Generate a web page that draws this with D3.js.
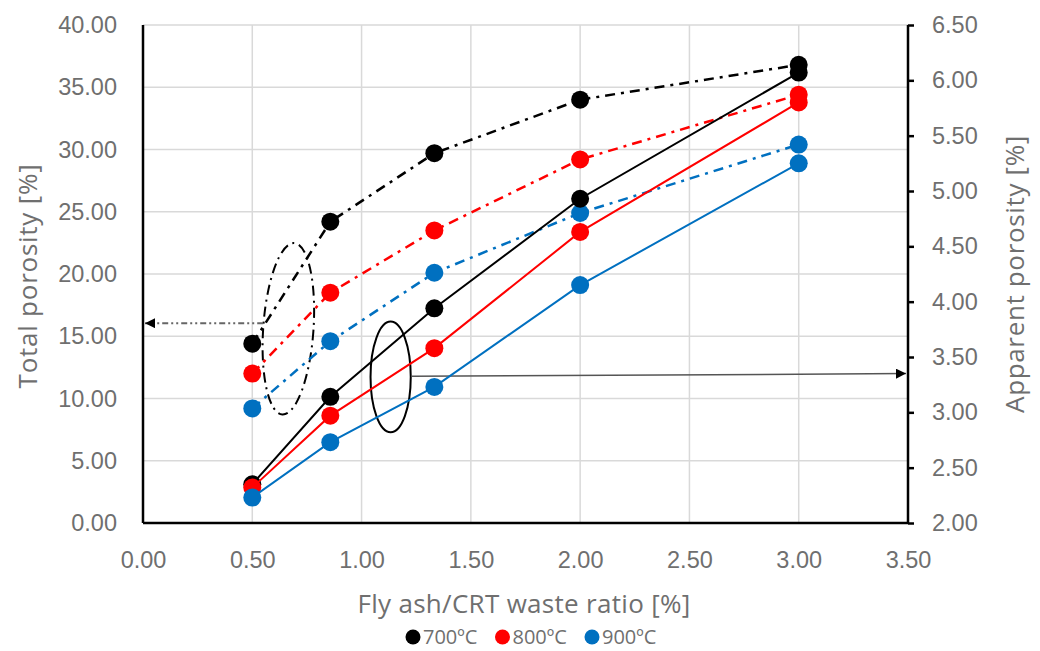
<!DOCTYPE html>
<html>
<head>
<meta charset="utf-8">
<script src="https://cdn.jsdelivr.net/npm/d3@7"></script>
<style>
  body { margin: 0; background: #fff; }
  svg { font-family: "Open Sans", sans-serif; }
</style>
</head>
<body>
<svg></svg>
<script>
// fly ash / CRT waste ratio
var ratios = [0.5, 0.857, 1.333, 2.0, 3.0];
var temps = ["700ºC", "800ºC", "900ºC"];
var colors = ["#000000", "#ff0000", "#0070c0"];

// total porosity [%] (left axis, dash-dot)
var total700 = [14.4, 24.2, 29.7, 34.0, 36.8];
var total800 = [12.0, 18.5, 23.5, 29.2, 34.4];
var total900 = [9.2, 14.6, 20.1, 24.9, 30.4];

// apparent porosity [%] (right axis, solid)
var app700 = [2.35, 3.14, 3.94, 4.93, 6.07];
var app800 = [2.32, 2.97, 3.58, 4.63, 5.80];
var app900 = [2.23, 2.73, 3.23, 4.15, 5.25];

var xTicks = [0, 0.5, 1, 1.5, 2, 2.5, 3, 3.5];
var leftTicks = [0, 5, 10, 15, 20, 25, 30, 35, 40];
var rightTicks = [2, 2.5, 3, 3.5, 4, 4.5, 5, 5.5, 6, 6.5];

var svgWidth = 1040, svgHeight = 651;
var margin = {left: 143, right: 132, top: 25, bottom: 128};
var w = svgWidth - margin.left - margin.right;
var h = svgHeight - margin.top - margin.bottom;

var svg = d3.select("svg")
    .attr("width", svgWidth)
    .attr("height", svgHeight);

var defs = svg.append("defs");
defs.append("marker")
    .attr("id", "arrow")
    .attr("viewBox", "0 0 10 10")
    .attr("refX", 10).attr("refY", 5)
    .attr("markerWidth", 10).attr("markerHeight", 10)
    .attr("markerUnits", "userSpaceOnUse")
    .attr("orient", "auto")
    .append("path")
    .attr("d", "M0,0L10,5L0,10Z")
    .attr("fill", "#000");

var g = svg.append("g")
    .attr("transform", "translate(" + margin.left + "," + margin.top + ")");

var x = d3.scaleLinear().domain([0, 3.5]).range([0, w]);
var yL = d3.scaleLinear().domain([0, 40]).range([h, 0]);
var yR = d3.scaleLinear().domain([2, 6.5]).range([h, 0]);

// grid
g.append("g").selectAll("line")
    .data(xTicks.slice(1))
    .enter().append("line")
    .attr("x1", function(d) { return x(d); })
    .attr("x2", function(d) { return x(d); })
    .attr("y1", 0).attr("y2", h)
    .attr("stroke", "#d9d9d9").attr("stroke-width", 1.5);
g.append("g").selectAll("line")
    .data(leftTicks.slice(1))
    .enter().append("line")
    .attr("x1", 0).attr("x2", w)
    .attr("y1", function(d) { return yL(d); })
    .attr("y2", function(d) { return yL(d); })
    .attr("stroke", "#d9d9d9").attr("stroke-width", 1.5);

// axes
var fmt = d3.format(".2f");
var xAxis = g.append("g")
    .attr("transform", "translate(0," + h + ")")
    .call(d3.axisBottom(x).tickValues(xTicks).tickFormat(fmt).tickSize(0).tickPadding(28));
var leftAxis = g.append("g")
    .call(d3.axisLeft(yL).tickValues(leftTicks).tickFormat(fmt).tickSize(0).tickPadding(26));
var rightAxis = g.append("g")
    .attr("transform", "translate(" + w + ",0)")
    .call(d3.axisRight(yR).tickValues(rightTicks).tickFormat(fmt).tickSize(6).tickPadding(18));

[xAxis, leftAxis, rightAxis].forEach(function(a) {
    a.select(".domain").attr("stroke", "#000").attr("stroke-width", 2.5);
    a.selectAll(".tick line").attr("stroke", "#000").attr("stroke-width", 2.5);
    a.selectAll("text").attr("fill", "#6f6f6f").attr("font-size", 23.5);
});
xAxis.select(".domain").attr("d", "M0,0H" + w);
leftAxis.select(".domain").attr("d", "M0,0V" + h);
rightAxis.select(".domain").attr("d", "M0,0V" + h);

// axis titles
svg.append("text")
    .attr("x", 524).attr("y", 613)
    .attr("text-anchor", "middle")
    .attr("font-size", 26).attr("letter-spacing", 0.3).attr("fill", "#6f6f6f")
    .text("Fly ash/CRT waste ratio [%]");
svg.append("text")
    .attr("transform", "translate(37,276) rotate(-90)")
    .attr("text-anchor", "middle")
    .attr("font-size", 26).attr("letter-spacing", 0.75).attr("fill", "#6f6f6f")
    .text("Total porosity [%]");
svg.append("text")
    .attr("transform", "translate(1024,274) rotate(-90)")
    .attr("text-anchor", "middle")
    .attr("font-size", 26).attr("letter-spacing", 0.65).attr("fill", "#6f6f6f")
    .text("Apparent porosity [%]");

// annotations: ellipses and arrows
g.append("ellipse")
    .attr("cx", x(0.665)).attr("cy", yL(15.6))
    .attr("rx", x(0.115)).attr("ry", h - yL(6.9))
    .attr("transform", "rotate(4," + x(0.665) + "," + yL(15.6) + ")")
    .attr("fill", "none").attr("stroke", "#000").attr("stroke-width", 2)
    .attr("stroke-dasharray", "10,5,2,5");
g.append("line")
    .attr("x1", x(0.55)).attr("x2", x(0) + 2)
    .attr("y1", yL(16.05)).attr("y2", yL(16.05))
    .attr("stroke", "#666").attr("stroke-width", 2)
    .attr("stroke-dasharray", "6,3,2,3,2,3")
    .attr("marker-end", "url(#arrow)");

g.append("ellipse")
    .attr("cx", x(1.133)).attr("cy", yR(3.32))
    .attr("rx", x(0.092)).attr("ry", h - yR(2.5))
    .attr("fill", "none").attr("stroke", "#000").attr("stroke-width", 2);
g.append("line")
    .attr("x1", x(1.23)).attr("x2", w - 2)
    .attr("y1", yR(3.325)).attr("y2", yR(3.35))
    .attr("stroke", "#555").attr("stroke-width", 1.5)
    .attr("marker-end", "url(#arrow)");

// series
var totals = [total700, total800, total900];
var apps = [app700, app800, app900];

function drawSeries(vals, yScale, color, dash) {
    var pts = ratios.map(function(r, i) { return [r, vals[i]]; });
    var line = d3.line()
        .x(function(d) { return x(d[0]); })
        .y(function(d) { return yScale(d[1]); });
    g.append("path")
        .datum(pts)
        .attr("d", line)
        .attr("fill", "none")
        .attr("stroke", color)
        .attr("stroke-width", dash ? 2.5 : 2)
        .attr("stroke-dasharray", dash ? "10,6,3,6" : null);
    g.append("g").selectAll("circle")
        .data(pts)
        .enter().append("circle")
        .attr("cx", function(d) { return x(d[0]); })
        .attr("cy", function(d) { return yScale(d[1]); })
        .attr("r", 9)
        .attr("fill", color);
}

for (var i = 0; i < 3; i++) {
    drawSeries(totals[i], yL, colors[i], true);
}
for (var j = 0; j < 3; j++) {
    drawSeries(apps[j], yR, colors[j], false);
}

// legend
var legend = svg.append("g").selectAll("g")
    .data(temps)
    .enter().append("g")
    .attr("transform", function(d, i) { return "translate(" + (413 + i * 89.5) + ",637)"; });
legend.append("circle")
    .attr("r", 7.5)
    .attr("fill", function(d, i) { return colors[i]; });
legend.append("text")
    .attr("x", 10).attr("y", 7)
    .attr("font-size", 20).attr("fill", "#6f6f6f")
    .text(function(d) { return d; });
</script>
</body>
</html>
